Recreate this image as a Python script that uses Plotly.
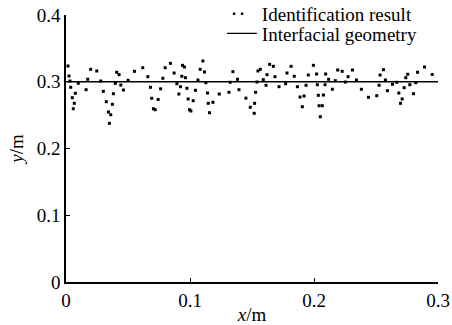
import plotly.graph_objects as go

# Identification result points (x in m, y in m)
x_id = [0.0016, 0.0024, 0.0032, 0.0038, 0.0051, 0.0059, 0.0067, 0.0075, 0.0099, 0.0162,
        0.0175, 0.0199, 0.0248, 0.0280, 0.0301, 0.0325, 0.0342, 0.0361, 0.0350, 0.0374,
        0.0382, 0.0398, 0.0409, 0.0428, 0.0442, 0.0463, 0.0501, 0.0552, 0.0619, 0.0660,
        0.0681, 0.0691, 0.0705, 0.0719, 0.0743, 0.0763, 0.0781, 0.0800, 0.0842, 0.0872,
        0.0894, 0.0910, 0.0923, 0.0934, 0.0939, 0.0955, 0.0963, 0.0975, 0.0985, 0.0996,
        0.1007, 0.1026, 0.1044, 0.1064, 0.1082, 0.1104, 0.1117, 0.1128, 0.1141, 0.1147,
        0.1157, 0.1185, 0.1236, 0.1314, 0.1324, 0.1346, 0.1383, 0.1395, 0.1451, 0.1486,
        0.1518, 0.1521, 0.1529, 0.1540, 0.1548, 0.1567, 0.1591, 0.1613, 0.1621, 0.1642,
        0.1672, 0.1685, 0.1718, 0.1771, 0.1782, 0.1815, 0.1841, 0.1866, 0.1887, 0.1906,
        0.1920, 0.1936, 0.1954, 0.1995, 0.2021, 0.2027, 0.2035, 0.2041, 0.2067, 0.2051,
        0.2076, 0.2089, 0.2094, 0.2118, 0.2148, 0.2172, 0.2191, 0.2227, 0.2253, 0.2275,
        0.2310, 0.2342, 0.2382, 0.2439, 0.2506, 0.2525, 0.2533, 0.2560, 0.2576, 0.2592,
        0.2633, 0.2668, 0.2684, 0.2697, 0.2711, 0.2727, 0.2740, 0.2756, 0.2773, 0.2802,
        0.2821, 0.2835, 0.2891, 0.2953]
y_id = [0.3236, 0.3086, 0.3011, 0.2917, 0.2761, 0.2596, 0.2677, 0.2827, 0.2977, 0.2881,
        0.3037, 0.3186, 0.3161, 0.3011, 0.2857, 0.2701, 0.2547, 0.2506, 0.2377, 0.2662,
        0.2821, 0.2977, 0.3142, 0.3106, 0.2951, 0.2876, 0.3022, 0.3156, 0.3210, 0.3076,
        0.2917, 0.2752, 0.2596, 0.2581, 0.2734, 0.2894, 0.3052, 0.3210, 0.3276, 0.3131,
        0.2971, 0.2816, 0.2926, 0.3082, 0.3246, 0.3221, 0.3061, 0.2902, 0.2742, 0.2581,
        0.2562, 0.2716, 0.2872, 0.3026, 0.3186, 0.3311, 0.3146, 0.2986, 0.2831, 0.2677,
        0.2536, 0.2692, 0.2816, 0.2842, 0.2992, 0.3151, 0.3037, 0.2881, 0.2754, 0.2617,
        0.2527, 0.2677, 0.2842, 0.2996, 0.3161, 0.3186, 0.3031, 0.2947, 0.3106, 0.3261,
        0.3231, 0.3076, 0.2926, 0.2971, 0.3131, 0.3231, 0.3082, 0.2926, 0.2771, 0.2626,
        0.2786, 0.2947, 0.3101, 0.3246, 0.3116, 0.2956, 0.2797, 0.2641, 0.2641, 0.2476,
        0.2801, 0.2956, 0.3116, 0.3037, 0.2887, 0.3016, 0.3176, 0.3156, 0.2996, 0.3076,
        0.3176, 0.3026, 0.2887, 0.2767, 0.2791, 0.2947, 0.3101, 0.3181, 0.3026, 0.2866,
        0.2962, 0.2992, 0.2831, 0.2677, 0.2742, 0.2911, 0.3061, 0.3112, 0.2956, 0.2821,
        0.2986, 0.3142, 0.3221, 0.3109]

# Interfacial geometry (flat line)
x_geo = [0.0, 0.3]
y_geo = [0.3, 0.3]

x_ticks = [0, 0.1, 0.2, 0.3]
x_ticklabels = ["0", "0.1", "0.2", "0.3"]
y_ticks = [0, 0.1, 0.2, 0.3, 0.4]
y_ticklabels = ["0", "0.1", "0.2", "0.3", "0.4"]

FONT = "Liberation Serif"
FS = 19

fig = go.Figure()
fig.add_trace(go.Scatter(x=x_id, y=y_id, mode="markers", showlegend=False,
                         marker=dict(symbol="square", size=3, color="black", line=dict(width=0))))
fig.add_trace(go.Scatter(x=[None], y=[None], mode="lines", name="Identification result",
                         line=dict(color="black", width=2.5, dash="0px,6px,2.5px,5.5px,2.5px,60px"),
                         legend="legend"))
fig.add_trace(go.Scatter(x=x_geo, y=y_geo, mode="lines", name="Interfacial geometry",
                         line=dict(color="black", width=1.3), legend="legend2"))

axis_common = dict(showgrid=False, zeroline=False, showline=True, linecolor="black", linewidth=1.5,
                   ticks="inside", ticklen=4, tickwidth=1.2, tickcolor="black", automargin=False,
                   tickfont=dict(family=FONT, size=FS, color="black"))

fig.update_layout(
    width=452, height=325,
    margin=dict(l=66, r=14, t=15, b=43, autoexpand=False),
    paper_bgcolor="white", plot_bgcolor="white",
    font=dict(family=FONT, size=FS, color="black"),
    xaxis=dict(range=[0, 0.3], tickvals=x_ticks, ticktext=x_ticklabels,
               title=dict(text="<i>x</i>/m", font=dict(family=FONT, size=FS), standoff=2),
               **axis_common),
    yaxis=dict(range=[0, 0.4], tickvals=y_ticks, ticktext=y_ticklabels,
               title=dict(text="<i>y</i>/m", font=dict(family=FONT, size=FS), standoff=8),
               **axis_common),
    legend=dict(x=0.419, y=1.075, xanchor="left", yanchor="top",
                bgcolor="rgba(0,0,0,0)", borderwidth=0, font=dict(family=FONT, size=FS)),
    legend2=dict(x=0.419, y=1.002, xanchor="left", yanchor="top",
                 bgcolor="rgba(0,0,0,0)", borderwidth=0, font=dict(family=FONT, size=FS)),
)

fig.write_html("out.html")
